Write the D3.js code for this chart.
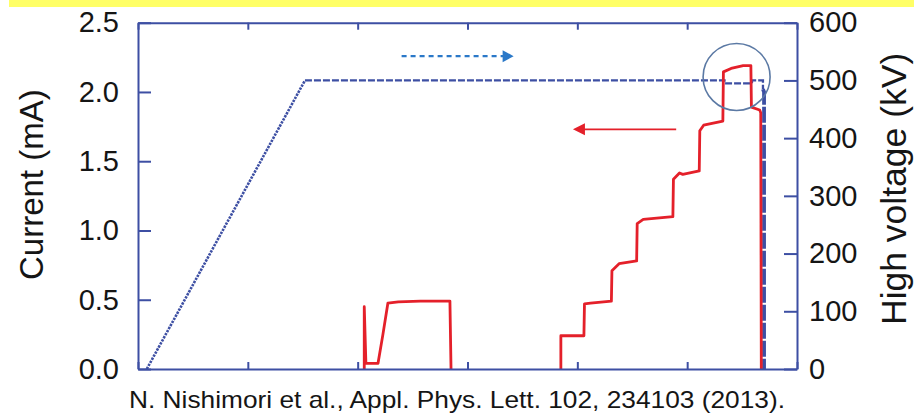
<!DOCTYPE html>
<html>
<head>
<meta charset="utf-8">
<script src="https://cdn.jsdelivr.net/npm/d3@7/dist/d3.min.js"></script>
<style>
  html, body { margin: 0; padding: 0; background: #ffffff; }
  svg { display: block; }
  text { font-family: "Liberation Sans", Arial, sans-serif; fill: #151515; }
</style>
</head>
<body>
<svg id="chart" width="914" height="414"></svg>
<script>
// ---------- data ----------
const timeTicks = [0, 10, 20, 30, 40, 50, 60];
const currentTicks = [0, 0.5, 1.0, 1.5, 2.0, 2.5];
const voltageTicks = [0, 100, 200, 300, 400, 500, 600];

// High voltage (kV) vs time (arbitrary time units)
const hvTime = [0.8, 15.2, 53.4, 53.4, 55.9, 55.9, 56.9, 56.9, 57.0, 57.0];
const hvKV   = [0, 500, 500, 495, 495, 500, 500, 485, 480, 0];

// Current (mA) vs time; null splits the trace
const curTime = [20.6, 20.6, 20.75, 21.85, 22.3, 22.75, 23.7, 25.7, 28.4, 28.5,
                 null,
                 38.5, 38.5, 40.6, 40.65, 41.2, 43.1, 43.15, 43.8, 45.4, 45.45, 46.0, 48.7,
                 48.75, 49.3, 49.6, 51.1, 51.15, 51.5, 53.25, 53.3, 54.0, 55.1, 55.8, 55.85,
                 56.6, 56.7, 56.75];
const curMA   = [0, 0.45, 0.04, 0.04, 0.25, 0.475, 0.485, 0.49, 0.49, 0,
                 null,
                 0, 0.24, 0.24, 0.47, 0.475, 0.49, 0.71, 0.76, 0.78, 1.05, 1.08, 1.10,
                 1.37, 1.415, 1.405, 1.43, 1.72, 1.76, 1.79, 2.145, 2.17, 2.19, 2.19, 1.89,
                 1.87, 1.85, 0];

const citation = "N. Nishimori et al., Appl. Phys. Lett. 102, 234103 (2013).";

// ---------- layout ----------
const svg = d3.select("#chart");
const L = 138, R = 797, T = 22.7, B = 369;
const axisColor = "#3d4fa3";
const red = "#e4202a";

const x = d3.scaleLinear().domain([0, 60]).range([L, R]);
const yC = d3.scaleLinear().domain([0, 2.5]).range([B, T]);
const yV = d3.scaleLinear().domain([0, 600]).range([B, T]);

// yellow band
svg.append("rect").attr("x", 9).attr("y", 0).attr("width", 905).attr("height", 7).attr("fill", "#ffff66");

// ---------- voltage trace ----------
const hv = hvTime.map((t, i) => ({ t, v: hvKV[i] }));
const lineV = d3.line().x(d => x(d.t)).y(d => yV(d.v));
// ramp (dotted), plateau (dashed), final drop (heavy)
svg.append("path").datum(hv.slice(0, 2)).attr("d", lineV)
  .attr("fill", "none").attr("stroke", axisColor).attr("stroke-width", 2.6)
  .attr("stroke-dasharray", "2.4,1.1");
svg.append("path").datum(hv.slice(1, 8)).attr("d", lineV)
  .attr("fill", "none").attr("stroke", axisColor).attr("stroke-width", 2.3)
  .attr("stroke-dasharray", "7,2");
svg.append("path").datum(hv.slice(7)).attr("d", lineV)
  .attr("fill", "none").attr("stroke", axisColor).attr("stroke-width", 3.8)
  .attr("stroke-dasharray", "16,2");

// ---------- current trace ----------
const cur = curTime.map((t, i) => ({ t, c: curMA[i] }));
const lineC = d3.line().defined(d => d.t !== null && d.c !== null)
  .x(d => x(d.t)).y(d => yC(d.c));
svg.append("path").datum(cur).attr("d", lineC)
  .attr("fill", "none").attr("stroke", red).attr("stroke-width", 2.8)
  .attr("stroke-linejoin", "round");

// ---------- annotations ----------
// circle around the peak
svg.append("circle").attr("cx", x(54.5)).attr("cy", yV(506)).attr("r", 33.5)
  .attr("fill", "none").attr("stroke", "#5b79a4").attr("stroke-width", 1.6);

// blue dashed arrow (voltage -> right axis)
const bx1 = x(24.0), bx2 = x(34.2), by = yV(542);
svg.append("line").attr("x1", bx1).attr("x2", bx2 - 9).attr("y1", by).attr("y2", by)
  .attr("stroke", "#2a78c8").attr("stroke-width", 2.2).attr("stroke-dasharray", "5,4");
svg.append("path").attr("d", `M${bx2},${by} L${bx2 - 11},${by - 6} L${bx2 - 11},${by + 6} Z`)
  .attr("fill", "#2a78c8");

// red arrow (current -> left axis)
const rx1 = x(49.0), rx2 = x(39.6), ry = yC(1.73);
svg.append("line").attr("x1", rx1).attr("x2", rx2 + 8).attr("y1", ry).attr("y2", ry)
  .attr("stroke", red).attr("stroke-width", 1.8);
svg.append("path").attr("d", `M${rx2},${ry} L${rx2 + 12},${ry - 6} L${rx2 + 12},${ry + 6} Z`)
  .attr("fill", red);

// ---------- axes ----------
function styleAxis(g) {
  g.select(".domain").attr("stroke", axisColor).attr("stroke-width", 2);
  g.selectAll(".tick line").attr("stroke", axisColor).attr("stroke-width", 2);
  g.selectAll(".tick text").style("font-size", "29px").attr("fill", "#151515")
    .style("font-family", "'Liberation Sans', Arial, sans-serif");
}

svg.append("g").attr("transform", `translate(0,${B})`)
  .call(d3.axisBottom(x).tickValues(timeTicks).tickSizeInner(-7).tickSizeOuter(0).tickFormat(""))
  .call(styleAxis);
svg.append("g").attr("transform", `translate(0,${T})`)
  .call(d3.axisTop(x).tickValues(timeTicks).tickSizeInner(-7).tickSizeOuter(0).tickFormat(""))
  .call(styleAxis);
svg.append("g").attr("transform", `translate(${L},0)`)
  .call(d3.axisLeft(yC).tickValues(currentTicks).tickSizeInner(-13).tickSizeOuter(0)
    .tickPadding(19).tickFormat(d3.format(".1f")))
  .call(styleAxis);
svg.append("g").attr("transform", `translate(${R},0)`)
  .call(d3.axisRight(yV).tickValues(voltageTicks).tickSizeInner(-13).tickSizeOuter(0)
    .tickPadding(12).tickFormat(d3.format("d")))
  .call(styleAxis);

// ---------- titles ----------
svg.append("text").attr("transform", "translate(43,280) rotate(-90)")
  .attr("text-anchor", "start").style("font-size", "33px").text("Current (mA)");
svg.append("text").attr("transform", "translate(906,325) rotate(-90)")
  .attr("text-anchor", "start").style("font-size", "35.5px").text("High voltage (kV)");

svg.append("text").attr("x", 129).attr("y", 408).style("font-size", "24px")
  .attr("textLength", 656).attr("lengthAdjust", "spacingAndGlyphs").text(citation);
</script>
</body>
</html>
